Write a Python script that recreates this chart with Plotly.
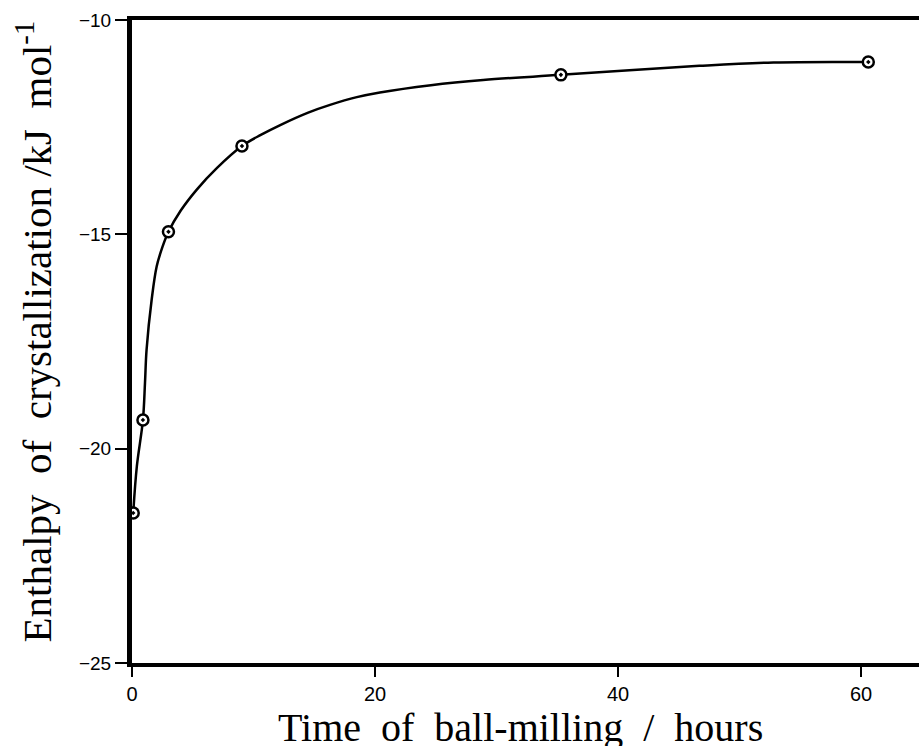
import plotly.graph_objects as go

# Measured points (hours, kJ/mol)
time_h = [0.1, 0.9, 3.0, 9.05, 35.3, 60.6]
enthalpy = [-21.5, -19.33, -14.94, -12.94, -11.28, -10.98]

# Hand-drawn fitted curve
curve_x = [0.1, 0.4, 0.9, 1.07, 1.2, 1.62, 2.03, 2.5, 3.0, 4.0, 5.35, 7.0, 9.05,
           10.6, 12.2, 14.5, 16.3, 18.5, 20.4, 24.6, 28.9, 35.3, 46.7, 52.8, 60.6]
curve_y = [-21.5, -20.41, -19.33, -18.46, -17.69, -16.52, -15.75, -15.3, -14.94,
           -14.45, -13.95, -13.45, -12.94, -12.68, -12.45, -12.16, -11.98, -11.80,
           -11.69, -11.52, -11.40, -11.28, -11.07, -10.99, -10.98]

x_ticks = [0, 20, 40, 60]
y_ticks = [-25, -20, -15, -10]

sp = "\u00a0\u00a0"
x_title = sp.join(["Time", "of", "ball-milling", "/", "hours"])
y_title = "Enthalpy\u00a0\u00a0of\u00a0\u00a0crystallization\u00a0/kJ\u00a0\u00a0mol<sup>-1</sup>"

fig = go.Figure()
fig.add_trace(go.Scatter(
    x=curve_x, y=curve_y, mode="lines",
    line=dict(color="black", width=2.5, shape="spline", smoothing=1.0),
    hoverinfo="skip", showlegend=False))
fig.add_trace(go.Scatter(
    x=time_h, y=enthalpy, mode="markers",
    marker=dict(symbol="circle-dot", size=11, color="white",
                line=dict(color="black", width=2.5)),
    showlegend=False))

W, H = 919, 746
L, R, T, B = 132, 0, 20, 83

fig.update_layout(
    width=W, height=H,
    margin=dict(l=L, r=R, t=T, b=B),
    paper_bgcolor="white", plot_bgcolor="white",
    font=dict(family="Liberation Sans, Arial, sans-serif", color="black", size=19),
    xaxis=dict(range=[0, (W - L - R) / 12.15], tickvals=x_ticks,
               ticks="outside", ticklen=10, tickwidth=1.5, tickcolor="black",
               showline=True, linewidth=4, linecolor="black", mirror=True,
               showgrid=False, zeroline=False,
               tickfont=dict(size=20)),
    yaxis=dict(range=[-25, -10], tickvals=y_ticks,
               ticks="outside", ticklen=12, tickwidth=1.5, tickcolor="black",
               showline=True, linewidth=5, linecolor="black", mirror=False,
               showgrid=False, zeroline=False,
               tickfont=dict(size=19)),
    annotations=[
        dict(text=x_title, xref="paper", yref="paper", x=0.494, y=-0.1,
             xanchor="center", yanchor="middle", showarrow=False,
             font=dict(family="Liberation Serif, Times New Roman, serif", size=40)),
        dict(text=y_title, xref="paper", yref="paper", x=-0.125, y=0.515,
             xanchor="center", yanchor="middle", showarrow=False, textangle=-90,
             font=dict(family="Liberation Serif, Times New Roman, serif", size=41)),
    ],
)

fig.write_html("out.html")
